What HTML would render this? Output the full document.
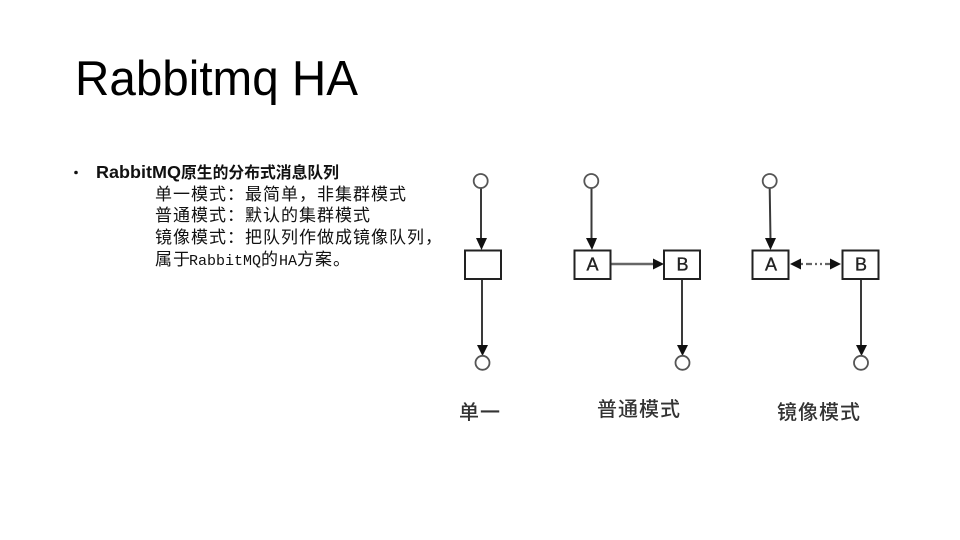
<!DOCTYPE html>
<html><head><meta charset="utf-8"><style>
html,body{margin:0;padding:0;background:#fff;width:960px;height:540px;overflow:hidden}
svg{display:block}
.b{font-family:"Liberation Sans","Noto Sans CJK SC",sans-serif}
.c{font-family:"WenQuanYi Zen Hei","Noto Sans CJK SC",sans-serif;font-size:17px;letter-spacing:1px;fill:#111}
.m{font-family:"Liberation Mono",monospace;font-size:15px;fill:#111}
.l{font-family:"Noto Sans CJK SC",sans-serif;font-size:20px;font-weight:500;fill:#333}
.n{font-family:"Liberation Sans",sans-serif;font-size:18px;fill:#222;stroke:#222;stroke-width:.35;text-anchor:middle}
.s{fill:none;stroke:#3a3a3a;stroke-width:2}
.r{fill:#fff;stroke:#222;stroke-width:2}
.o{fill:#fff;stroke:#555;stroke-width:1.8}
.a{fill:#111}
.d{filter:blur(.3px)}
</style></head><body>
<svg width="960" height="540" viewBox="0 0 960 540" xmlns="http://www.w3.org/2000/svg">
<rect width="960" height="540" fill="#fff"/>
<text class="b" x="75" y="95" font-size="49" fill="#000" textLength="283" lengthAdjust="spacingAndGlyphs">Rabbitmq HA</text>
<circle cx="76" cy="172.500" r="1.800" fill="#111"/>
<text class="b" x="96" y="178" font-size="17.500" font-weight="bold" fill="#111" textLength="85" lengthAdjust="spacingAndGlyphs">RabbitMQ</text>
<text class="b" x="181" y="178" font-size="15.800" font-weight="bold" fill="#111">原生的分布式消息队列</text>
<text class="c" x="155" y="200">单一模式&#xFF1A;最简单&#xFF0C;非集群模式</text>
<text class="c" x="155" y="221">普通模式&#xFF1A;默认的集群模式</text>
<text class="c" x="155" y="243">镜像模式&#xFF1A;把队列作做成镜像队列&#xFF0C;</text>
<text class="c" x="155" y="265">属于</text>
<text class="m" x="189" y="265">RabbitMQ</text>
<text class="c" x="261" y="265">的</text>
<text class="m" x="279" y="265">HA</text>
<text class="c" x="297" y="265">方案。</text>

<g class="d">
<!-- single -->
<path class="s" d="M481 188V240M482 279V347"/>
<path class="a" d="M476 238H487L481.500 250ZM477 345H488L482.500 356Z"/>
<rect class="r" x="465" y="250.500" width="36" height="28.500"/>
<circle class="o" cx="480.700" cy="181" r="7"/>
<circle class="o" cx="482.500" cy="362.800" r="7"/>

<!-- normal -->
<path class="s" d="M591.500 188V240M682 279V347"/>
<path class="s" style="stroke:#666;stroke-width:2.4" d="M611 264H655"/>
<path class="a" d="M586 238H597L592 250ZM653 258.500V269.500L664 264ZM677 345H688L682.500 356Z"/>
<rect class="r" x="574.500" y="250.500" width="36" height="28.500"/>
<rect class="r" x="664" y="250.500" width="36" height="28.500"/>
<text class="n" x="592.500" y="270.500">A</text>
<text class="n" x="682.500" y="270.500">B</text>
<circle class="o" cx="591.300" cy="181" r="7"/>
<circle class="o" cx="682.500" cy="362.800" r="7"/>

<!-- mirror -->
<path class="s" d="M769.700 188L770.500 240M861 279V347"/>
<path class="s" style="stroke:#666;stroke-width:2.2;stroke-dasharray:2 3 6 3 2 3" d="M801 264H831"/>
<path class="a" d="M765 238H776L770.500 250ZM790 264L801 258.500V269.500ZM841 264L830 258.500V269.500ZM856 345H867L861.500 356Z"/>
<rect class="r" x="752.500" y="250.500" width="36" height="28.500"/>
<rect class="r" x="842.500" y="250.500" width="36" height="28.500"/>
<text class="n" x="771" y="270.500">A</text>
<text class="n" x="861" y="270.500">B</text>
<circle class="o" cx="769.700" cy="181" r="7"/>
<circle class="o" cx="861" cy="362.800" r="7"/>

<text class="l" x="459" y="419" textLength="41" lengthAdjust="spacing">单一</text>
<text class="l" x="597" y="416" textLength="83" lengthAdjust="spacing">普通模式</text>
<text class="l" x="777" y="419" textLength="83" lengthAdjust="spacing">镜像模式</text>
</g>
</svg>
</body></html>
